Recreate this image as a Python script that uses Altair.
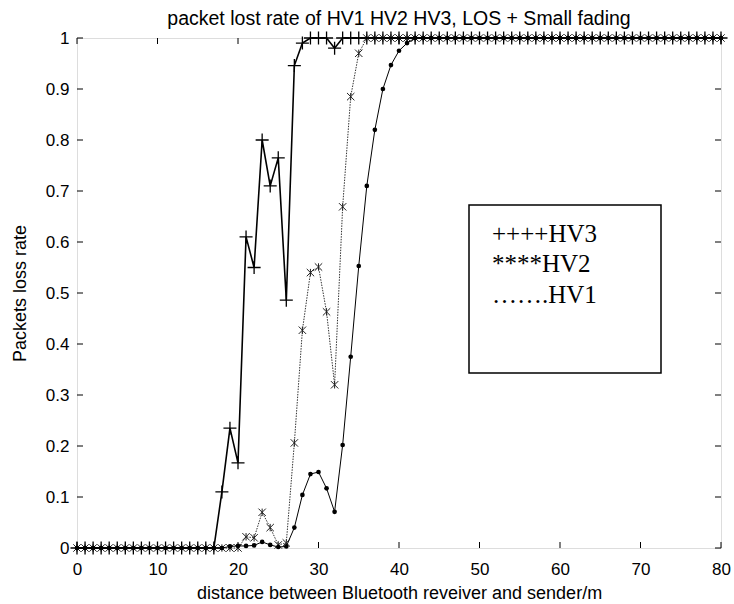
import altair as alt
import pandas as pd

# distances (m)
distance = list(range(0, 81))

hv3 = [0, 0, 0, 0, 0, 0, 0, 0, 0, 0,
       0, 0, 0, 0, 0, 0, 0, 0, 0.11, 0.235,
       0.167, 0.61, 0.55, 0.80, 0.71, 0.765, 0.486, 0.946, 0.99, 1,
       1, 1, 0.98, 1, 1, 1, 1, 1, 1, 1,
       1, 1, 1, 1, 1, 1, 1, 1, 1, 1,
       1, 1, 1, 1, 1, 1, 1, 1, 1, 1,
       1, 1, 1, 1, 1, 1, 1, 1, 1, 1,
       1, 1, 1, 1, 1, 1, 1, 1, 1, 1,
       1]

hv2 = [0, 0, 0, 0, 0, 0, 0, 0, 0, 0,
       0, 0, 0, 0, 0, 0, 0, 0, 0, 0,
       0, 0.022, 0.02, 0.07, 0.04, 0.006, 0.01, 0.206, 0.427, 0.54,
       0.551, 0.463, 0.32, 0.669, 0.885, 0.97, 1, 1, 1, 1,
       1, 1, 1, 1, 1, 1, 1, 1, 1, 1,
       1, 1, 1, 1, 1, 1, 1, 1, 1, 1,
       1, 1, 1, 1, 1, 1, 1, 1, 1, 1,
       1, 1, 1, 1, 1, 1, 1, 1, 1, 1,
       1]

hv1 = [0, 0, 0, 0, 0, 0, 0, 0, 0, 0,
       0, 0, 0, 0, 0, 0, 0, 0, 0, 0.003,
       0.004, 0.004, 0.005, 0.012, 0.006, 0.002, 0.003, 0.04, 0.104, 0.145,
       0.149, 0.117, 0.071, 0.202, 0.375, 0.553, 0.71, 0.82, 0.90, 0.947,
       0.975, 0.99, 1, 1, 1, 1, 1, 1, 1, 1,
       1, 1, 1, 1, 1, 1, 1, 1, 1, 1,
       1, 1, 1, 1, 1, 1, 1, 1, 1, 1,
       1, 1, 1, 1, 1, 1, 1, 1, 1, 1,
       1]

x_ticks = [0, 10, 20, 30, 40, 50, 60, 70, 80]
y_ticks = [0, 0.1, 0.2, 0.3, 0.4, 0.5, 0.6, 0.7, 0.8, 0.9, 1]

legend_labels = ["++++HV3", "****HV2", "\u2026\u2026.HV1"]
title_text = "packet lost rate of HV1 HV2 HV3, LOS + Small fading"

W, H = 644, 510
SANS = "Liberation Sans"

df3 = pd.DataFrame({"d": distance, "r": hv3})
df2 = pd.DataFrame({"d": distance, "r": hv2})
df1 = pd.DataFrame({"d": distance, "r": hv1})

xs = alt.Scale(domain=[0, 80], nice=False, zero=False)
ys = alt.Scale(domain=[0, 1], nice=False, zero=False)

x_enc = alt.X("d:Q", scale=xs, axis=alt.Axis(
    values=x_ticks, ticks=False, domain=False, grid=False, labelFontSize=17,
    labelFont=SANS, labelColor="black", labelPadding=13, labelFlush=False,
    title="distance between Bluetooth reveiver and sender/m",
    titleFont=SANS, titleFontSize=18, titleFontWeight="normal", titleColor="black",
    titleY=50, titleBaseline="alphabetic"))
y_enc = alt.Y("r:Q", scale=ys, axis=alt.Axis(
    values=y_ticks, ticks=False, domain=False, grid=False, labelFontSize=17,
    labelFont=SANS, labelColor="black", labelPadding=8, labelFlush=False,
    format="~g",
    title="Packets loss rate", titleFont=SANS, titleFontSize=18,
    titleFontWeight="normal", titleColor="black", titleX=-57, titleY=H / 2,
    titleAngle=-90, titleBaseline="middle", titleAlign="center"))

plus_path = "M-1,0L1,0M0,-1L0,1"
star_path = "M-1,-1L1,1M-1,1L1,-1M0,-1L0,1"

line3 = alt.Chart(df3).mark_line(color="black", strokeWidth=1.6).encode(x=x_enc, y=y_enc)
pts3 = alt.Chart(df3).mark_point(shape=plus_path, size=170, filled=False,
                                 stroke="black", strokeWidth=1.3, opacity=1).encode(x="d:Q", y="r:Q")

line2 = alt.Chart(df2).mark_line(color="#333333", strokeWidth=1, strokeDash=[1.5, 1.2]).encode(x="d:Q", y="r:Q")
pts2 = alt.Chart(df2).mark_point(shape=star_path, size=55, filled=False,
                                 stroke="#222222", strokeWidth=1, opacity=1).encode(x="d:Q", y="r:Q")

line1 = alt.Chart(df1).mark_line(color="black", strokeWidth=1).encode(x="d:Q", y="r:Q")
pts1 = alt.Chart(df1).mark_point(shape="circle", size=22, filled=True,
                                 color="black", opacity=1).encode(x="d:Q", y="r:Q")

# inward tick marks on all four sides
xt = pd.DataFrame({"d": x_ticks})
yt = pd.DataFrame({"r": y_ticks})
tick_b = alt.Chart(xt).mark_rule(color="black", strokeWidth=1).encode(
    x="d:Q", y=alt.value(H), y2=alt.value(H - 6))
tick_t = alt.Chart(xt).mark_rule(color="black", strokeWidth=1).encode(
    x="d:Q", y=alt.value(0), y2=alt.value(6))
tick_l = alt.Chart(yt).mark_rule(color="black", strokeWidth=1).encode(
    y="r:Q", x=alt.value(0), x2=alt.value(6))
tick_r = alt.Chart(yt).mark_rule(color="black", strokeWidth=1).encode(
    y="r:Q", x=alt.value(W), x2=alt.value(W - 6))

one = pd.DataFrame({"k": [0]})

# legend annotation box
box = alt.Chart(one).mark_rect(
    fill="white", stroke="black", strokeWidth=1.5).encode(
    x=alt.value(392), x2=alt.value(584), y=alt.value(167), y2=alt.value(335))

leg_layers = []
for lbl, yy in zip(legend_labels, [204, 234, 265]):
    leg_layers.append(
        alt.Chart(one).mark_text(
            text=lbl, font="Liberation Serif", fontSize=25, align="left",
            baseline="alphabetic", color="black").encode(
            x=alt.value(415), y=alt.value(yy)))

title = alt.Chart(one).mark_text(
    text=title_text, font=SANS, fontSize=19.5, align="center",
    baseline="alphabetic", color="black").encode(
    x=alt.value(W / 2), y=alt.value(-13))

chart = alt.layer(
    line3, line2, line1, pts2, pts1, pts3,
    tick_b, tick_t, tick_l, tick_r, box, *leg_layers, title
).properties(
    width=W, height=H,
    autosize=alt.AutoSizeParams(type="none"),
    padding={"left": 77, "top": 38, "right": 13, "bottom": 56},
).configure_view(stroke="black", strokeWidth=1.2).configure(background="white")

chart.save("out.html", embed_options={"renderer": "svg", "actions": False})
